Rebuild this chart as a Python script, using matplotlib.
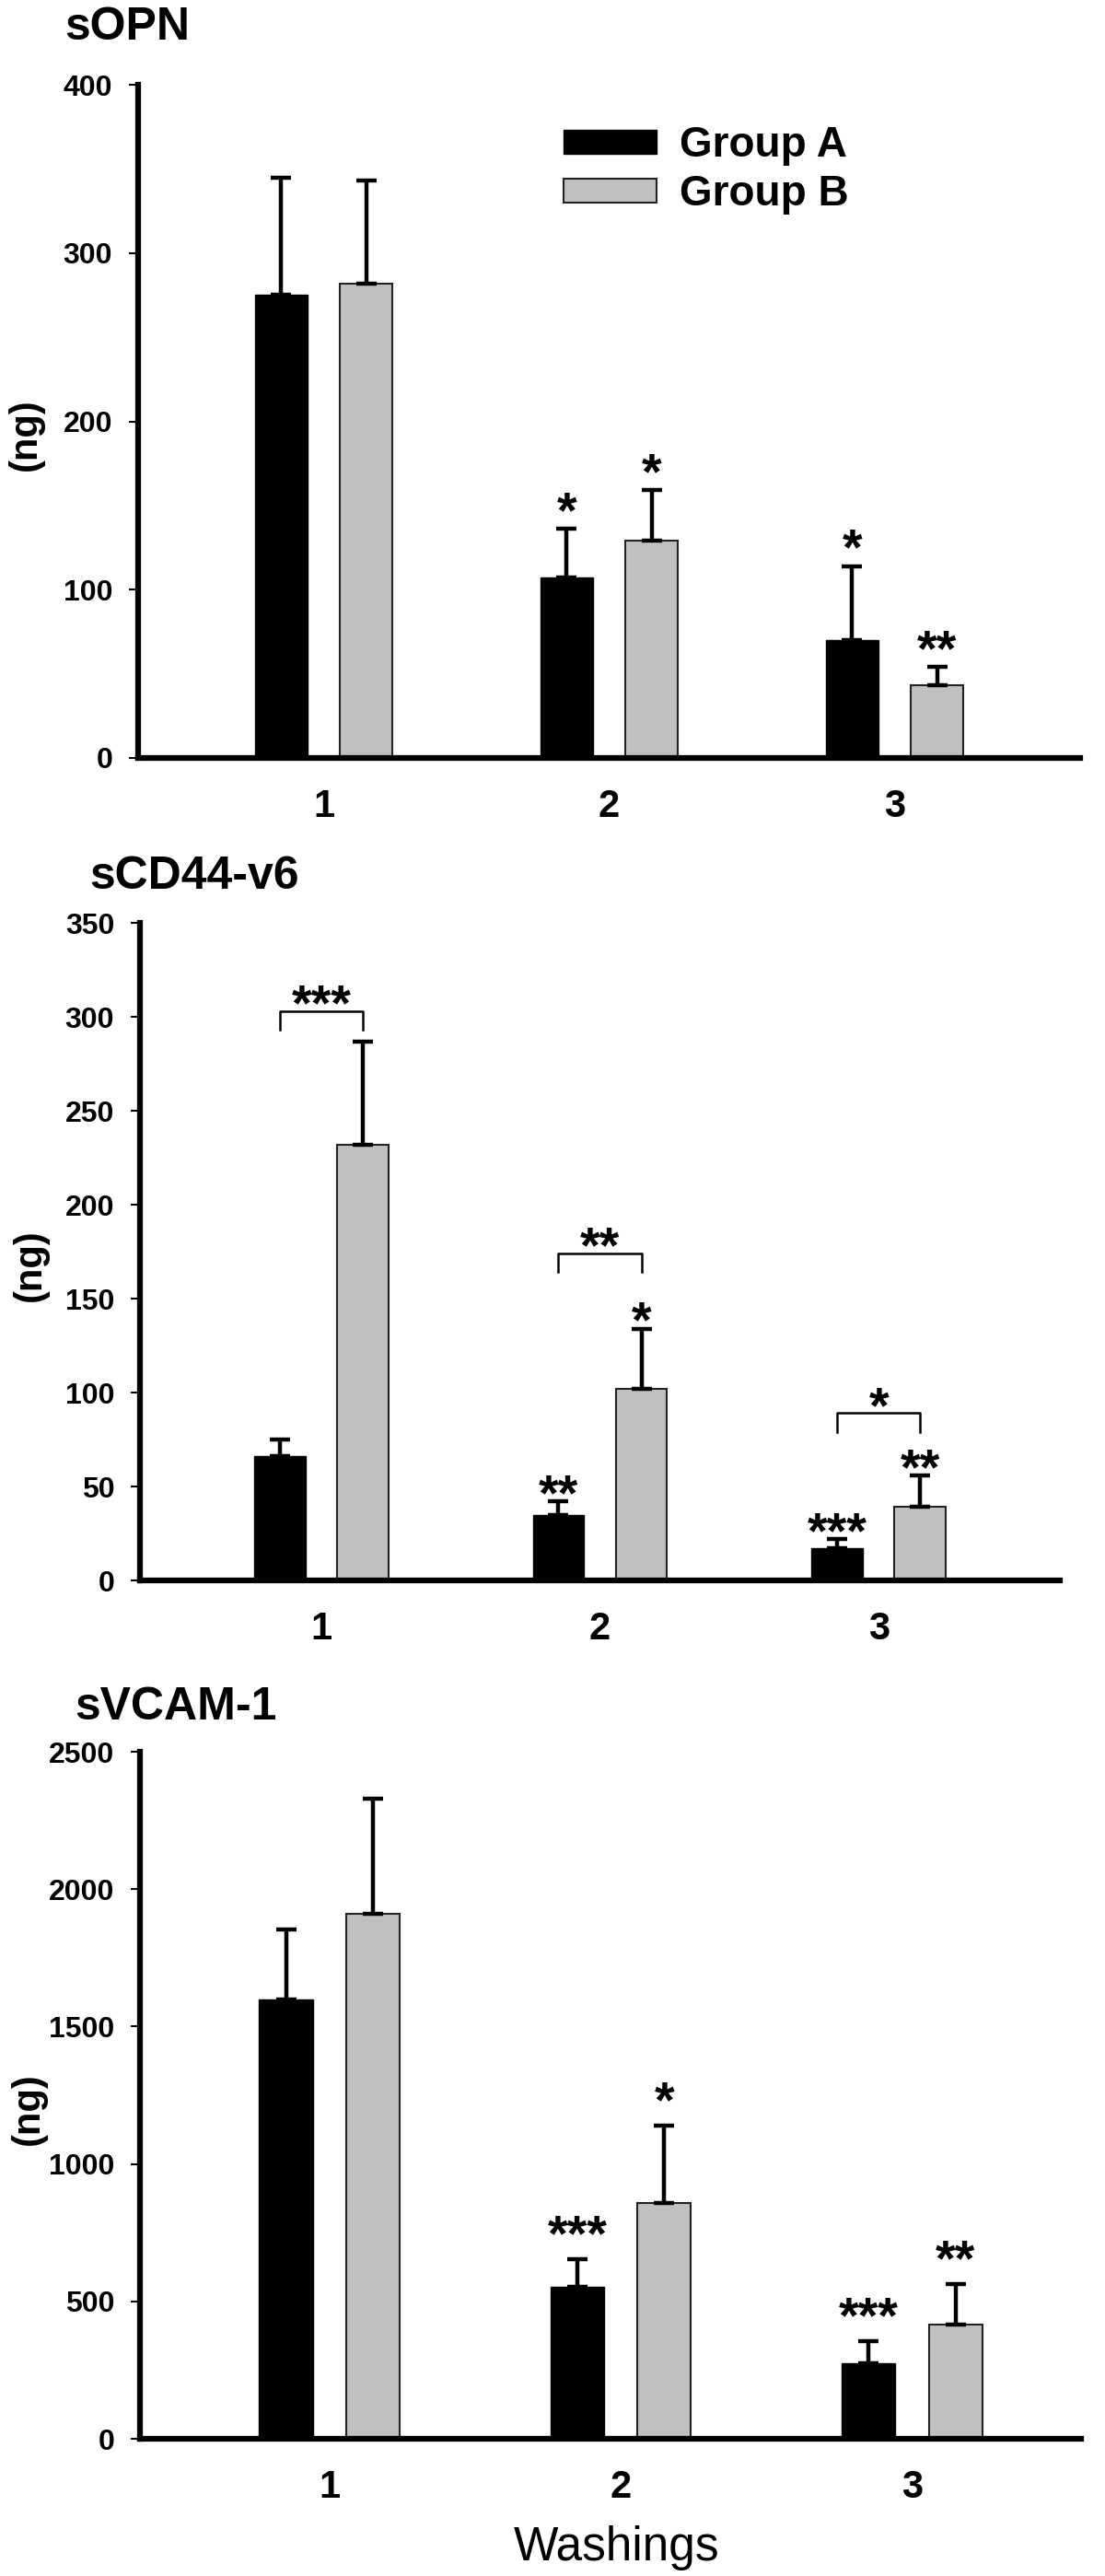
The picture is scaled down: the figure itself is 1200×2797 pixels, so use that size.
import numpy as np
import matplotlib
matplotlib.use("Agg")
import matplotlib.pyplot as plt

plt.rcParams['font.family'] = ['Liberation Sans', 'DejaVu Sans']

# ---------- data ----------
washings = [1, 2, 3]
tick_labels = ['1', '2', '3']

opn_a = [275, 107, 70]
opn_a_err = [70, 29, 44]
opn_b = [282, 129, 43]
opn_b_err = [61, 30, 11]
opn_sig_a = ['', '*', '*']
opn_sig_b = ['', '*', '**']

cd44_a = [66, 35, 17]
cd44_a_err = [9, 7, 5]
cd44_b = [232, 102, 39]
cd44_b_err = [55, 32, 17]
cd44_sig_a = ['', '**', '***']
cd44_sig_b = ['', '*', '**']
cd44_pair_sig = ['***', '**', '*']
cd44_pair_y = [303, 174, 89]

vcam_a = [1600, 553, 275]
vcam_a_err = [253, 100, 79]
vcam_b = [1909, 857, 414]
vcam_b_err = [419, 284, 150]
vcam_sig_a = ['', '***', '***']
vcam_sig_b = ['', '*', '**']

# ---------- style ----------
W, H = 1200, 2797
BAR_W = 0.184
OFF = 0.149
GRAY = '#C0C0C0'
STAR_SIZE = 40

fig = plt.figure(figsize=(W / 100, H / 100), dpi=100)


def px_rect(x0, y0, x1, y1):
    # pixel box (top-left origin) -> figure fraction
    return [x0 / W, 1 - y1 / H, (x1 - x0) / W, (y1 - y0) / H]


def panel(rect, title, title_xy, a, a_err, b, b_err, sig_a, sig_b,
          ymax, ystep, xmax, star_pad):
    ax = fig.add_axes(px_rect(*rect))
    x = np.array(washings, dtype=float)
    ax.bar(x - OFF, a, BAR_W, color='black', edgecolor='black', linewidth=1, zorder=2)
    ax.bar(x + OFF, b, BAR_W, color=GRAY, edgecolor='#222222', linewidth=1.5, zorder=2)
    ax.errorbar(x - OFF, a, yerr=[np.zeros(3), a_err], fmt='none', ecolor='black',
                elinewidth=3.2, capsize=8, capthick=3.2, zorder=3)
    ax.errorbar(x + OFF, b, yerr=[np.zeros(3), b_err], fmt='none', ecolor='black',
                elinewidth=3.2, capsize=8, capthick=3.2, zorder=3)

    for xs, m, e, sig in [(x - OFF, a, a_err, sig_a), (x + OFF, b, b_err, sig_b)]:
        for xi, mi, ei, s in zip(xs, m, e, sig):
            if s:
                ax.annotate(s, (xi, mi + ei), xytext=(0, star_pad), textcoords='offset points',
                            ha='center', va='baseline', fontsize=STAR_SIZE, fontweight='bold')

    ax.set_xlim(0.35, xmax)
    ax.set_ylim(0, ymax)
    ax.set_yticks(np.arange(0, ymax + 1, ystep))
    ax.set_xticks(washings)
    ax.set_xticklabels(tick_labels)
    for sp in ['top', 'right']:
        ax.spines[sp].set_visible(False)
    for sp in ['left', 'bottom']:
        ax.spines[sp].set_linewidth(4.5)
        ax.spines[sp].set_zorder(5)
    ax.tick_params(axis='y', direction='out', length=7, width=1.5, pad=13,
                   labelsize=23)
    ax.tick_params(axis='x', length=0, pad=24, labelsize=30)
    for lab in ax.get_xticklabels() + ax.get_yticklabels():
        lab.set_fontweight('bold')

    ax.text(-0.119, 0.48, '(ng)', transform=ax.transAxes, rotation=90,
            ha='center', va='center', fontsize=30, fontweight='bold')
    fig.text(title_xy[0] / W, 1 - title_xy[1] / H, title, ha='left', va='baseline',
             fontsize=36, fontweight='bold')
    return ax


# ---- sOPN ----
ax1 = panel((150, 92, 1173, 823), 'sOPN', (70, 43),
            opn_a, opn_a_err, opn_b, opn_b_err, opn_sig_a, opn_sig_b,
            400, 100, 3.65, 1.5)
ax1.legend(ax1.containers[:2], ['Group A', 'Group B'], loc='upper left',
           bbox_to_anchor=(0.452, 0.94), frameon=False, borderpad=0,
           borderaxespad=0, handlelength=2.2, handleheight=0.5,
           handletextpad=0.55, labelspacing=0.2,
           prop={'size': 33, 'weight': 'bold'})

# ---- sCD44-v6 ----
ax2 = panel((152, 1002, 1151, 1716), 'sCD44-v6', (97, 965),
            cd44_a, cd44_a_err, cd44_b, cd44_b_err, cd44_sig_a, cd44_sig_b,
            350, 50, 3.65, -6.5)
for xi, s, yb in zip(washings, cd44_pair_sig, cd44_pair_y):
    ax2.plot([xi - OFF, xi - OFF, xi + OFF, xi + OFF], [yb - 10, yb, yb, yb - 10],
             color='black', linewidth=1.8, zorder=4)
    ax2.annotate(s, (xi, yb), xytext=(0, -7), textcoords='offset points',
                 ha='center', va='baseline', fontsize=STAR_SIZE, fontweight='bold')

# ---- sVCAM-1 ----
ax3 = panel((152, 1902, 1174, 2648), 'sVCAM-1', (81, 1867),
            vcam_a, vcam_a_err, vcam_b, vcam_b_err, vcam_sig_a, vcam_sig_b,
            2500, 500, 3.58, 7)

fig.text(670 / W, 1 - 2780 / H, 'Washings', ha='center', va='baseline', fontsize=37)

fig.savefig('out.png', dpi=100)
